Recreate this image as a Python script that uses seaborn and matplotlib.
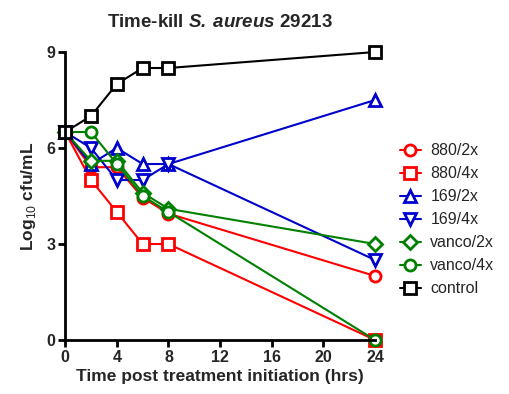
import pandas as pd
import matplotlib
matplotlib.use("Agg")
import matplotlib.pyplot as plt
import seaborn as sns

# tempos (h) e contagens log10 cfu/mL
horas = [0, 2, 4, 6, 8, 24]
series = ["880/2x", "880/4x", "169/2x", "169/4x", "vanco/2x", "vanco/4x", "control"]
v880_2x = [6.5, 5.4, 5.4, 4.45, 3.95, 2.0]
v880_4x = [6.5, 5.0, 4.0, 3.0, 3.0, 0.0]
v169_2x = [6.5, 5.5, 6.0, 5.5, 5.5, 7.5]
v169_4x = [6.5, 6.0, 5.0, 5.0, 5.5, 2.5]
vanco_2x = [6.5, 5.6, 5.6, 4.6, 4.1, 3.0]
vanco_4x = [6.5, 6.5, 5.5, 4.5, 4.0, 0.0]
control = [6.5, 7.0, 8.0, 8.5, 8.5, 9.0]
valores = [v880_2x, v880_4x, v169_2x, v169_4x, vanco_2x, vanco_4x, control]

cores = ["#ff0000", "#ff0000", "#0000cc", "#0000cc", "#008000", "#008000", "#000000"]
marcadores = ["o", "s", "^", "v", "D", "o", "s"]
tamanhos = [8, 9, 9, 9, 7, 8, 9]

sns.set_theme(style="ticks")
plt.rcParams["font.family"] = ["Liberation Sans", "DejaVu Sans"]
plt.rcParams["mathtext.fontset"] = "custom"
plt.rcParams["mathtext.bfit"] = "Liberation Sans:italic:bold"
plt.rcParams["mathtext.rm"] = "Liberation Sans"

fig = plt.figure(figsize=(5.09, 3.94), dpi=100)
ax = fig.add_axes([0.128, 0.137, 0.609, 0.731])

for nome, vals, cor, m, ms in zip(series, valores, cores, marcadores, tamanhos):
    df = pd.DataFrame({"hrs": horas, "log": vals})
    sns.lineplot(data=df, x="hrs", y="log", color=cor, marker=m, markersize=ms,
                 markerfacecolor="white", markeredgecolor=cor, markeredgewidth=2,
                 linewidth=1.5, label=nome, clip_on=False, ax=ax)

ax.set_xlim(0, 24)
ax.set_ylim(0, 9)
ax.set_xticks([0, 4, 8, 12, 16, 20, 24])
ax.set_yticks([0, 3, 6, 9])
sns.despine(ax=ax)
for s in ["left", "bottom"]:
    ax.spines[s].set_linewidth(2)
    ax.spines[s].set_color("black")
ax.tick_params(width=2, length=5, color="black", labelsize=11.5, pad=2)
for t in ax.get_xticklabels() + ax.get_yticklabels():
    t.set_fontweight("bold")

ax.set_xlabel("Time post treatment initiation (hrs)", fontsize=12.5, fontweight="bold", labelpad=3)
ax.set_ylabel(r"Log$_{10}$ cfu/mL", fontsize=12.5, fontweight="bold", labelpad=6)
ax.set_title(r"Time-kill $\mathbfit{S.\,aureus}$ 29213", fontsize=13.5,
             fontweight="bold", pad=18)

ax.legend(loc="center left", bbox_to_anchor=(0.786, 0.442), bbox_transform=fig.transFigure,
          frameon=False, fontsize=11.5, handlelength=1.3, labelspacing=0.5,
          handletextpad=0.6, borderpad=0, borderaxespad=0)

fig.savefig("out.png", dpi=100)
